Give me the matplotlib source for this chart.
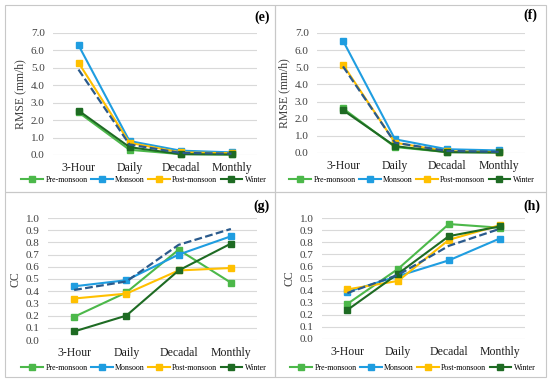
import matplotlib
matplotlib.use("Agg")
import matplotlib.pyplot as plt
from matplotlib.patches import Rectangle

plt.rcParams['font.family'] = ['Liberation Serif', 'DejaVu Serif']

categories = ["3-Hour", "Daily", "Decadal", "Monthly"]
series_names = ["Pre-monsoon", "Monsoon", "Post-monsoon", "Winter"]

# (e) RMSE
e_pre = [2.45, 0.30, 0.05, 0.03]
e_mon = [6.30, 0.80, 0.25, 0.15]
e_post = [5.30, 0.70, 0.15, 0.10]
e_win = [2.55, 0.45, 0.05, 0.03]
e_avg = [4.90, 0.60, 0.12, 0.08]

# (f) RMSE
f_pre = [2.60, 0.35, 0.05, 0.03]
f_mon = [6.55, 0.80, 0.22, 0.15]
f_post = [5.15, 0.60, 0.10, 0.05]
f_win = [2.50, 0.40, 0.05, 0.03]
f_avg = [5.05, 0.60, 0.12, 0.07]

# (g) CC
g_pre = [0.19, 0.39, 0.74, 0.47]
g_mon = [0.44, 0.49, 0.70, 0.85]
g_post = [0.34, 0.38, 0.57, 0.59]
g_win = [0.07, 0.20, 0.57, 0.79]
g_avg = [0.41, 0.48, 0.78, 0.91]

# (h) CC
h_pre = [0.29, 0.58, 0.95, 0.92]
h_mon = [0.39, 0.52, 0.65, 0.83]
h_post = [0.41, 0.48, 0.82, 0.94]
h_win = [0.24, 0.54, 0.85, 0.93]
h_avg = [0.38, 0.53, 0.77, 0.91]

rmse_ticks = [0.0, 1.0, 2.0, 3.0, 4.0, 5.0, 6.0, 7.0]
cc_ticks = [0.0, 0.1, 0.2, 0.3, 0.4, 0.5, 0.6, 0.7, 0.8, 0.9, 1.0]

colors = ["#4CB84A", "#1F9DE0", "#FFC000", "#1E6B23"]
avg_color = "#2A5A8C"

W, H = 550, 381
fig = plt.figure(figsize=(W / 100, H / 100), dpi=100)

def px_axes(x0, x1, ytop, ybot):
    return fig.add_axes([x0 / W, 1 - ybot / H, (x1 - x0) / W, (ybot - ytop) / H])

# panel frames
frame_kw = dict(transform=fig.transFigure, fill=False, edgecolor="#c8c8c8", linewidth=0.8)
for (x0, y0, x1, y1) in [(5, 5, 275, 192), (275, 5, 546, 192), (5, 192, 275, 377), (275, 192, 546, 377)]:
    fig.patches.append(Rectangle((x0 / W, 1 - y1 / H), (x1 - x0) / W, (y1 - y0) / H, **frame_kw))

panels = [
    ("(e)", (53, 257, 33, 155), [e_pre, e_mon, e_post, e_win], e_avg, rmse_ticks, "RMSE (mm/h)", (262, 17), 180, 144),
    ("(f)", (317, 525, 33, 153), [f_pre, f_mon, f_post, f_win], f_avg, rmse_ticks, "RMSE (mm/h)", (530, 15), 180, 412),
    ("(g)", (48, 257, 218, 340), [g_pre, g_mon, g_post, g_win], g_avg, cc_ticks, "CC", (262, 206), 368, 144),
    ("(h)", (322, 525, 218, 339), [h_pre, h_mon, h_post, h_win], h_avg, cc_ticks, "CC", (532, 206), 368, 413),
]

x = list(range(len(categories)))
for label, (x0, x1, yt, yb), data, avg, ticks, ylab, (lx, ly), legy, legx in panels:
    ax = px_axes(x0, x1, yt, yb)
    ax.set_xlim(-0.5, len(categories) - 0.5)
    ax.set_ylim(ticks[0], ticks[-1])
    ax.set_yticks(ticks)
    ax.set_yticklabels(["{:.1f}".format(t) for t in ticks], fontsize=8, color="#404040")
    ax.set_xticks(x)
    ax.set_xticklabels(categories, fontsize=8.5, color="#202020")
    ax.tick_params(axis="both", length=0)
    ax.tick_params(axis="y", pad=6)
    ax.tick_params(axis="x", pad=5)
    for s in ax.spines.values():
        s.set_visible(False)
    ax.grid(axis="y", color="#d9d9d9", linewidth=0.8)
    ax.set_axisbelow(True)
    ax.patch.set_alpha(0)
    ax.set_ylabel(ylab, fontsize=8.5, color="#404040", labelpad=3)
    handles = []
    for vals, c, name in zip(data, colors, series_names):
        h, = ax.plot(x, vals, color=c, marker="s", markersize=4.5, linewidth=1.5, label=name, clip_on=False)
        handles.append(h)
    ax.plot(x, avg, color=avg_color, linestyle=(0, (3.5, 1.5)), linewidth=1.6, clip_on=False)
    fig.text(lx / W, 1 - ly / H, label, fontsize=10, fontweight="bold", ha="center", va="center")
    fig.legend(handles=handles, labels=series_names, loc="center", bbox_to_anchor=(legx / W, 1 - legy / H),
               ncol=4, fontsize=5.8, frameon=False, handlelength=2.7, handletextpad=0.3,
               columnspacing=0.4, borderpad=0, borderaxespad=0)

fig.savefig("out.png", dpi=100)
